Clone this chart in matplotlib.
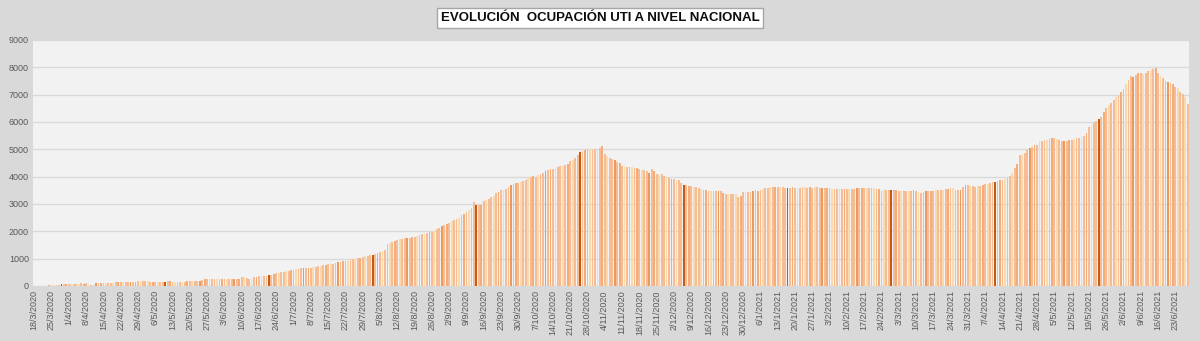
import numpy as np
import matplotlib
matplotlib.use('Agg')
import matplotlib.pyplot as plt
import pandas as pd

# ocupacion diaria de camas UTI, desde 18/3/2020 (una fila = una semana)
ocupacion = [
    0, 0, 0, 0, 0, 10, 25,
    35, 40, 45, 50, 55, 60, 65,
    75, 80, 85, 85, 90, 95, 90,
    95, 90, 40, 45, 110, 112, 115,
    110, 115, 120, 120, 125, 130, 135,
    145, 150, 150, 150, 155, 155, 160,
    165, 175, 180, 175, 165, 155, 150,
    150, 150, 155, 150, 160, 170, 165,
    150, 150, 145, 150, 155, 160, 165,
    175, 175, 170, 165, 180, 230, 250,
    250, 250, 255, 250, 260, 265, 270,
    260, 255, 255, 250, 255, 255, 260,
    340, 320, 300, 270, 260, 330, 340,
    350, 355, 360, 380, 400, 420, 440,
    460, 480, 500, 520, 540, 560, 580,
    600, 620, 640, 650, 660, 670, 650,
    660, 680, 700, 720, 740, 760, 780,
    790, 800, 820, 840, 860, 880, 900,
    910, 930, 950, 980, 1000, 1020, 1040,
    1060, 1080, 1100, 1120, 1140, 1170, 1200,
    1250, 1270, 1300, 1550, 1580, 1600, 1650,
    1690, 1710, 1730, 1750, 1760, 1770, 1790,
    1800, 1830, 1860, 1890, 1920, 1950, 1970,
    1990, 2030, 2080, 2130, 2180, 2230, 2280,
    2320, 2360, 2400, 2440, 2500, 2600, 2650,
    2700, 2780, 2850, 3070, 2980, 2960, 2980,
    3110, 3150, 3200, 3250, 3300, 3400, 3450,
    3500, 3530, 3560, 3620, 3680, 3720, 3750,
    3780, 3800, 3830, 3860, 3980, 4000, 4020,
    4000, 4050, 4100, 4150, 4200, 4240, 4270,
    4290, 4320, 4340, 4380, 4400, 4420, 4450,
    4570, 4620, 4700, 4800, 4900, 4950, 4980,
    5000, 5020, 4990, 5030, 5000, 5050, 5120,
    4820, 4750, 4700, 4650, 4600, 4550, 4500,
    4390, 4380, 4370, 4360, 4340, 4320, 4310,
    4290, 4260, 4230, 4200, 4150, 4280, 4200,
    4110, 4060, 4100, 4020, 3980, 3950, 3930,
    3900, 3880, 3870, 3780, 3700, 3680, 3670,
    3660, 3640, 3620, 3590, 3560, 3530, 3500,
    3480, 3470, 3480, 3470, 3480, 3460, 3400,
    3350, 3380, 3370, 3350, 3360, 3260, 3300,
    3440, 3440, 3450, 3440, 3460, 3500, 3470,
    3500, 3540, 3580, 3600, 3610, 3620, 3640,
    3620, 3630, 3620, 3590, 3580, 3600, 3610,
    3570, 3580, 3600, 3620, 3620, 3600, 3610,
    3600, 3610, 3620, 3600, 3570, 3580, 3570,
    3570, 3560, 3560, 3540, 3550, 3560, 3550,
    3540, 3550, 3560, 3560, 3570, 3580, 3580,
    3580, 3590, 3590, 3600, 3590, 3560, 3540,
    3480, 3500, 3500, 3520, 3520, 3510, 3510,
    3490, 3480, 3480, 3470, 3460, 3480, 3500,
    3480, 3440, 3420, 3440, 3460, 3460, 3470,
    3480, 3500, 3510, 3520, 3520, 3540, 3560,
    3580, 3580, 3500, 3500, 3510, 3620, 3680,
    3690, 3660, 3650, 3640, 3650, 3660, 3700,
    3720, 3740, 3760, 3790, 3810, 3830, 3860,
    3880, 3900, 3940, 4040, 4150, 4330, 4480,
    4790, 4800, 4860, 4960, 5040, 5100, 5150,
    5150, 5300, 5320, 5340, 5340, 5380, 5400,
    5400, 5380, 5340, 5320, 5300, 5320, 5330,
    5350, 5380, 5400, 5420, 5460, 5480, 5600,
    5820, 5870, 5950, 6020, 6110, 6200, 6350,
    6500, 6620, 6680, 6800, 6900, 6940, 7080,
    7200, 7380, 7550, 7680, 7650, 7720, 7790,
    7790, 7760, 7800, 7860, 7900, 7940, 7970,
    7800, 7670, 7600, 7500, 7450, 7430, 7400,
    7290, 7230, 7080, 7020, 6900, 6650,
]

fecha_inicio = '2020-03-18'
fechas = pd.date_range(fecha_inicio, periods=len(ocupacion), freq='D')
etiquetas = ['%d/%d/%d' % (f.day, f.month, f.year) for f in fechas]
y_ticks = [0, 1000, 2000, 3000, 4000, 5000, 6000, 7000, 8000, 9000]

# colores de las barras (tonos naranjos como en excel)
colores = []
for i in range(len(ocupacion)):
    if i % 42 == 11:
        colores.append('#C55A11')
    elif i % 14 == 11:
        colores.append('#E99A5C')
    elif i % 7 == 1 or i % 7 == 4:
        colores.append('#FBD9A8')
    elif i % 7 == 6:
        colores.append('#F4AC78')
    else:
        colores.append('#F5BC95')

fig = plt.figure(figsize=(12, 3.41), dpi=100)
fig.patch.set_facecolor('#D9D9D9')
ax = fig.add_axes([0.0275, 0.1613, 0.9633, 0.7214])
ax.set_facecolor('#F2F2F2')

x = np.arange(len(ocupacion))
ax.bar(x, ocupacion, width=0.72, color=colores, zorder=2)

ax.set_xlim(-0.5, len(ocupacion) - 0.5)
ax.set_ylim(0, 9000)
ax.set_yticks(y_ticks)
ax.set_yticklabels([str(v) for v in y_ticks], fontsize=6.5, color='#595959',
                   family='Liberation Sans')
ax.set_xticks(x[::7])
ax.set_xticklabels(etiquetas[::7], rotation=90, fontsize=6.5, color='#595959',
                   family='Liberation Sans')
ax.tick_params(length=0, pad=3)
ax.grid(axis='y', color='#D9D9D9', linewidth=1, zorder=0)
for s in ax.spines.values():
    s.set_visible(False)

fig.text(0.5, 0.948, 'EVOLUCIÓN  OCUPACIÓN UTI A NIVEL NACIONAL', ha='center', va='center',
         fontsize=9.5, fontweight='bold', family='Liberation Sans', color='#0D0D0D',
         bbox=dict(boxstyle='square,pad=0.3', facecolor='white', edgecolor='#A6A6A6', linewidth=1))

plt.savefig('out.png', dpi=100, facecolor=fig.get_facecolor())
